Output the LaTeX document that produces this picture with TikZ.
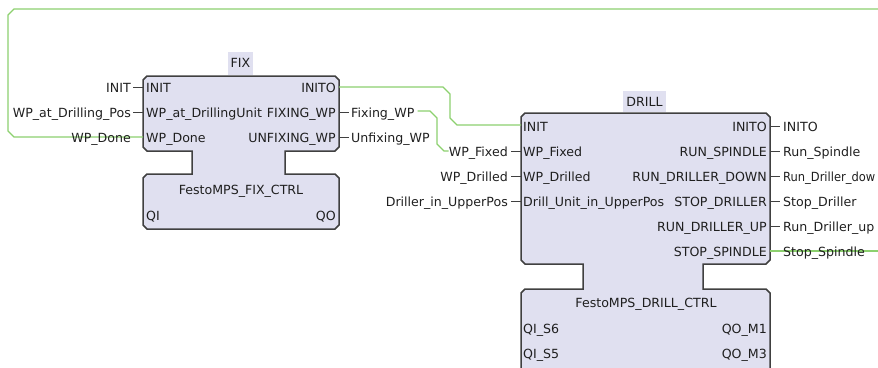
\documentclass[tikz,border=0pt]{standalone}
\usepackage{fontspec}
\setmainfont{DejaVu Sans}
\newfontfamily\narrowfnt[FakeStretch=0.91]{DejaVu Sans}
\definecolor{fbfill}{RGB}{224,224,240}
\definecolor{fbline}{RGB}{64,64,64}
\definecolor{wire}{RGB}{140,208,110}
\tikzset{
  fb/.style={draw=fbline, line width=1.5pt, fill=fbfill, line join=miter},
  lbl/.style={inner sep=0pt, text height=9pt, text depth=0pt, font=\fontsize{12.6}{14}\selectfont, text=black!88},
  tick/.style={draw=fbline, line width=1pt},
  wirel/.style={draw=wire, line width=1.2pt},
}
\begin{document}
\begin{tikzpicture}[x=1pt,y=-1pt]
\useasboundingbox (0,0) rectangle (878,367);

% ---------- FIX block ----------
\draw[fb] (147,76) -- (335,76) -- (339,80) -- (339,147) -- (335,151) -- (285,151) -- (285,174)
  -- (335,174) -- (339,178) -- (339,225) -- (335,229) -- (147,229) -- (143,225) -- (143,178)
  -- (147,174) -- (192,174) -- (192,151) -- (147,151) -- (143,147) -- (143,80) -- cycle;
\fill[fbfill] (228,52) rectangle (253,75);
\node[lbl] (fixname) at (240.5,63) {FIX};

\coordinate (fixI1) at (143,87);
\coordinate (fixI2) at (143,112);
\coordinate (fixI3) at (143,137);
\coordinate (fixO1) at (339,87);
\coordinate (fixO2) at (339,112);
\coordinate (fixO3) at (339,137);

\node[lbl,anchor=west] (fixin1) at (146,88) {INIT};
\node[lbl,anchor=west] (fixin2) at (146,113) {WP\_at\_DrillingUnit};
\node[lbl,anchor=west] (fixin3) at (146,138) {WP\_Done};
\node[lbl,anchor=east] (fixout1) at (336,88) {INITO};
\node[lbl,anchor=east] (fixout2) at (336,113) {FIXING\_WP};
\node[lbl,anchor=east] (fixout3) at (336,138) {UNFIXING\_WP};
\node[lbl] (fixtype) at (241,190) {FestoMPS\_FIX\_CTRL};
\node[lbl,anchor=west] (fixqi) at (146,216) {QI};
\node[lbl,anchor=east] (fixqo) at (336,216) {QO};

% external labels of FIX
\node[lbl,anchor=east] (eINIT) at (131,88) {INIT};
\node[lbl,anchor=east] (eWPpos) at (131,113) {WP\_at\_Drilling\_Pos};
\node[lbl,anchor=west] (eFix) at (351,113) {Fixing\_WP};
\node[lbl,anchor=west] (eUnfix) at (351,138) {Unfixing\_WP};
\draw[tick] (eINIT.east |- fixI1) ++(2,0) -- (fixI1);
\draw[tick] (eWPpos.east |- fixI2) ++(2,0) -- (fixI2);
\draw[tick] (fixO2) -- ++(10,0);
\draw[tick] (fixO3) -- ++(10,0);

% ---------- DRILL block ----------
\draw[fb] (525,113) -- (766,113) -- (770,117) -- (770,260) -- (766,264) -- (703,264) -- (703,289)
  -- (766,289) -- (770,293) -- (770,375) -- (521,375) -- (521,293)
  -- (525,289) -- (583,289) -- (583,264) -- (525,264) -- (521,260) -- (521,117) -- cycle;
\fill[fbfill] (623,91) rectangle (666,112);
\node[lbl] (drillname) at (644.5,102) {DRILL};

\coordinate (drI1) at (521,125);
\coordinate (drI2) at (521,151);
\coordinate (drI3) at (521,176);
\coordinate (drI4) at (521,201);
\coordinate (drO1) at (770,126);
\coordinate (drO2) at (770,151);
\coordinate (drO3) at (770,176);
\coordinate (drO4) at (770,201);
\coordinate (drO5) at (770,226);
\coordinate (drO6) at (770,251);

\node[lbl,anchor=west] (drin1) at (523,127) {INIT};
\node[lbl,anchor=west] (drin2) at (523,152) {WP\_Fixed};
\node[lbl,anchor=west] (drin3) at (523,177) {WP\_Drilled};
\node[lbl,anchor=west] (drin4) at (523,202) {Drill\_Unit\_in\_UpperPos};
\node[lbl,anchor=east] (drout1) at (767,127) {INITO};
\node[lbl,anchor=east] (drout2) at (767,152) {RUN\_SPINDLE};
\node[lbl,anchor=east] (drout3) at (767,177) {RUN\_DRILLER\_DOWN};
\node[lbl,anchor=east] (drout4) at (767,202) {STOP\_DRILLER};
\node[lbl,anchor=east] (drout5) at (767,227) {RUN\_DRILLER\_UP};
\node[lbl,anchor=east] (drout6) at (767,252) {STOP\_SPINDLE};
\node[lbl] (drtype) at (646,303) {FestoMPS\_DRILL\_CTRL};
\node[lbl,anchor=west] (drqi1) at (523,329) {QI\_S6};
\node[lbl,anchor=west] (drqi2) at (523,354) {QI\_S5};
\node[lbl,anchor=east] (drqo1) at (767,329) {QO\_M1};
\node[lbl,anchor=east] (drqo2) at (767,354) {QO\_M3};

% external labels of DRILL
\node[lbl,anchor=east] (eWPfixed) at (508,152) {WP\_Fixed};
\node[lbl,anchor=east] (eWPdrilled) at (508,177) {WP\_Drilled};
\node[lbl,anchor=east] (eUpper) at (508,202) {Driller\_in\_UpperPos};
\node[lbl,anchor=west] (eINITO) at (783,127) {INITO};
\node[lbl,anchor=west] (eRunSp) at (783,152) {Run\_Spindle};
\node[lbl,anchor=west,font=\narrowfnt\fontsize{12.6}{14}\selectfont] (eRunDown) at (783,177) {Run\_Driller\_dow};
\node[lbl,anchor=west] (eStopDr) at (783,202) {Stop\_Driller};
\node[lbl,anchor=west] (eRunUp) at (783,227) {Run\_Driller\_up};
\draw[tick] (drI2) -- ++(-10,0);
\draw[tick] (drI3) -- ++(-10,0);
\draw[tick] (drI4) -- ++(-10,0);
\draw[tick] (drO1) -- ++(10,0);
\draw[tick] (drO2) -- ++(10,0);
\draw[tick] (drO3) -- ++(10,0);
\draw[tick] (drO4) -- ++(10,0);
\draw[tick] (drO5) -- ++(10,0);

% ---------- wires ----------
\coordinate (farR) at (878,9);
\coordinate (farR2) at (878,251);
\draw[wirel] (fixI3) -- (14,137) -- (8,131) -- (8,15) -- (14,9) -- (farR);
\node[lbl,anchor=east] (eDone) at (131,138) {WP\_Done};
\draw[wirel] (fixO1) -- (443,87) -- (450,94) -- (450,118) -- (457,125) -- (drI1);
\draw[wirel] (eFix.east |- fixO2) ++(3,-1) -- (430,111) -- (437,118) -- (437,144) -- (444,151) -- (eWPfixed.west |- drI2);
\draw[wirel] (drO6) -- (farR2);
\node[lbl,anchor=west] (eStopSp) at (783,252) {Stop\_Spindle};
\end{tikzpicture}
\end{document}
